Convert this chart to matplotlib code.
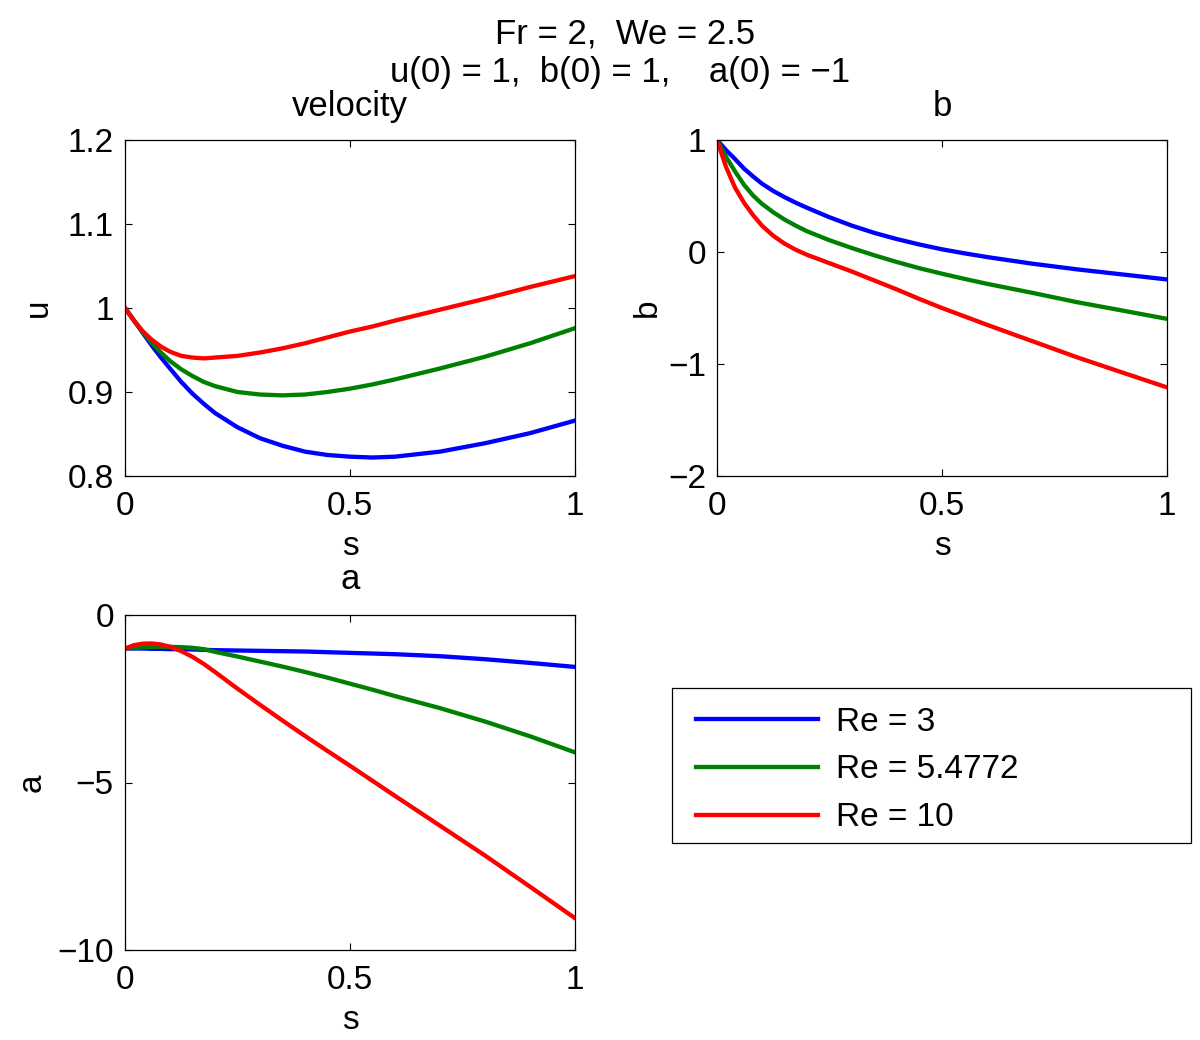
import matplotlib
matplotlib.use('Agg')
import matplotlib.pyplot as plt
from matplotlib.patches import Rectangle

# Data
s      = [0, 0.02, 0.04, 0.06, 0.08, 0.1, 0.125, 0.15, 0.175, 0.2, 0.25,
          0.3, 0.35, 0.4, 0.45, 0.5, 0.55, 0.6, 0.7, 0.8, 0.9, 1.0]
labels = ['Re = 3', 'Re = 5.4772', 'Re = 10']
colors = ['#0000ff', '#008000', '#ff0000']

u_re3  = [1.000, 0.985, 0.970, 0.955, 0.941, 0.928, 0.912, 0.898, 0.886, 0.875, 0.858,
          0.845, 0.836, 0.829, 0.825, 0.823, 0.822, 0.823, 0.829, 0.839, 0.851, 0.866]
u_re5  = [1.000, 0.985, 0.971, 0.958, 0.947, 0.937, 0.927, 0.919, 0.912, 0.907, 0.900,
          0.897, 0.896, 0.897, 0.900, 0.904, 0.909, 0.915, 0.928, 0.942, 0.958, 0.976]
u_re10 = [1.000, 0.985, 0.972, 0.962, 0.954, 0.948, 0.943, 0.941, 0.940, 0.941, 0.943,
          0.947, 0.952, 0.958, 0.965, 0.972, 0.978, 0.985, 0.998, 1.011, 1.025, 1.038]

b_re3  = [1.00, 0.91, 0.83, 0.745, 0.675, 0.61, 0.545, 0.49, 0.44, 0.395, 0.31,
          0.235, 0.17, 0.115, 0.067, 0.024, -0.012, -0.045, -0.104, -0.155, -0.200, -0.245]
b_re5  = [1.00, 0.85, 0.72, 0.60, 0.505, 0.43, 0.355, 0.29, 0.235, 0.185, 0.105,
          0.035, -0.03, -0.09, -0.145, -0.194, -0.24, -0.284, -0.364, -0.448, -0.522, -0.597]
b_re10 = [1.00, 0.76, 0.575, 0.44, 0.33, 0.235, 0.145, 0.075, 0.02, -0.025, -0.10,
          -0.175, -0.255, -0.335, -0.42, -0.50, -0.575, -0.65, -0.795, -0.94, -1.075, -1.209]

a_re3  = [-1.00, -1.00, -1.00, -1.01, -1.01, -1.02, -1.02, -1.03, -1.04, -1.05, -1.06,
          -1.07, -1.08, -1.09, -1.11, -1.13, -1.15, -1.17, -1.23, -1.32, -1.43, -1.55]
a_re5  = [-1.00, -0.98, -0.96, -0.95, -0.95, -0.95, -0.96, -0.98, -1.02, -1.10, -1.24,
          -1.39, -1.54, -1.70, -1.87, -2.05, -2.23, -2.42, -2.78, -3.18, -3.62, -4.10]
a_re10 = [-1.00, -0.90, -0.855, -0.85, -0.88, -0.95, -1.08, -1.25, -1.46, -1.70, -2.20,
          -2.68, -3.15, -3.61, -4.06, -4.50, -4.95, -5.40, -6.29, -7.18, -8.11, -9.05]

u_ticks = [0.8, 0.9, 1.0, 1.1, 1.2]
u_tlab  = ['0.8', '0.9', '1', '1.1', '1.2']
b_ticks = [-2, -1, 0, 1]
b_tlab  = ['\u22122', '\u22121', '0', '1']
a_ticks = [-10, -5, 0]
a_tlab  = ['\u221210', '\u22125', '0']
s_ticks = [0, 0.5, 1]
s_tlab  = ['0', '0.5', '1']

plt.rcParams['font.family'] = ['Liberation Sans', 'DejaVu Sans']
plt.rcParams['font.size'] = 24

W, H = 1200, 1040
fig = plt.figure(figsize=(W / 100, H / 100), dpi=100)


def box(x0, y0, x1, y1):
    return [x0 / W, 1 - y1 / H, (x1 - x0) / W, (y1 - y0) / H]


def style(ax, yticks, ylab, ylim):
    ax.set_xlim(0, 1)
    ax.set_ylim(*ylim)
    ax.set_xticks(s_ticks)
    ax.set_xticklabels(s_tlab)
    ax.set_yticks(yticks)
    ax.set_yticklabels(ylab)
    ax.tick_params(direction='in', length=5, width=0.8, top=True, right=True,
                   labelsize=24, pad=11)
    ax.tick_params(axis='y', pad=8)
    for sp in ax.spines.values():
        sp.set_linewidth(0.9)
    ax.set_xlabel('s', labelpad=6, fontsize=24)


ax1 = fig.add_axes(box(125, 140, 575, 476))
for y, c, l in zip([u_re3, u_re5, u_re10], colors, labels):
    ax1.plot(s, y, color=c, lw=3.1, label=l)
style(ax1, u_ticks, u_tlab, (0.8, 1.2))
ax1.set_ylabel('u', fontsize=24)
ax1.yaxis.set_label_coords(-0.158, 0.5)
ax1.set_title('velocity', pad=17, fontsize=25)

ax2 = fig.add_axes(box(717, 140, 1167, 476))
for y, c in zip([b_re3, b_re5, b_re10], colors):
    ax2.plot(s, y, color=c, lw=3.1)
style(ax2, b_ticks, b_tlab, (-2, 1))
ax2.set_ylabel('b', fontsize=24)
ax2.yaxis.set_label_coords(-0.12, 0.5)
ax2.set_title('b', pad=17, fontsize=25)

ax3 = fig.add_axes(box(125, 615, 575, 950))
for y, c in zip([a_re3, a_re5, a_re10], colors):
    ax3.plot(s, y, color=c, lw=3.1)
style(ax3, a_ticks, a_tlab, (-10, 0))
ax3.set_ylabel('a', fontsize=24)
ax3.yaxis.set_label_coords(-0.172, 0.5)
ax3.set_title('a', pad=19, fontsize=25)

# overall title, two lines
fig.text(625 / W, 1 - 44 / H, 'Fr = 2,  We = 2.5', ha='center', va='baseline', fontsize=25)
fig.text(620 / W, 1 - 82 / H, 'u(0) = 1,  b(0) = 1,    a(0) = \u22121',
         ha='center', va='baseline', fontsize=25)

# legend in its own frame
fig.add_artist(Rectangle((672 / W, 1 - 843 / H), 519 / W, 155 / H, transform=fig.transFigure,
                         fill=False, edgecolor='black', lw=0.9))
handles, _ = ax1.get_legend_handles_labels()
fig.legend(handles, labels, loc='center left', bbox_to_anchor=(696 / W, 1 - 770 / H),
           frameon=False, borderpad=0, borderaxespad=0, handlelength=3.66,
           handletextpad=0.55, labelspacing=0.5, fontsize=24)

fig.savefig('out.png', dpi=100)
